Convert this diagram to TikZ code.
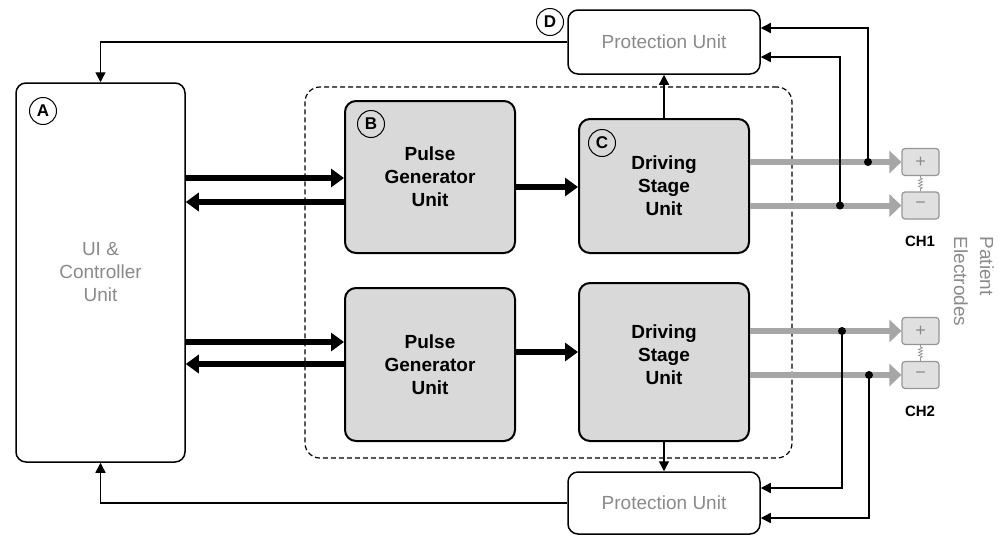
\documentclass[tikz,border=0pt]{standalone}
\usepackage{fontspec}
\setmainfont{Liberation Sans}
\usetikzlibrary{arrows.meta,decorations.pathmorphing}
\definecolor{txtgray}{RGB}{138,138,138}
\definecolor{boxgray}{RGB}{217,217,217}
\definecolor{wiregray}{RGB}{166,166,166}
\definecolor{elfill}{RGB}{224,224,224}
\definecolor{elborder}{RGB}{150,150,150}
\begin{document}
\begin{tikzpicture}[x=1pt,y=-1pt,
  unitbox/.style={draw, line width=2pt, fill=boxgray, rounded corners=11pt, inner sep=0pt, align=center, font=\fontsize{19}{23}\selectfont\bfseries},
  unittext/.style={align=center, inner sep=0pt, font=\fontsize{19}{23}\selectfont\bfseries},
  whitebox/.style={draw, line width=1.5pt, fill=white, rounded corners=10pt, inner sep=0pt, align=center, text=txtgray, font=\fontsize{19}{23}\selectfont},
  tag/.style={draw, circle, line width=1pt, minimum size=27pt, inner sep=0pt, font=\fontsize{17}{17}\selectfont\bfseries},
  wire/.style={line width=1.4pt, -{Triangle[length=10pt,width=10pt]}},
  fat/.style={line width=6pt, -{Triangle[length=13pt,width=18pt]}},
  grayarrow/.style={line width=6pt, draw=wiregray, -{Triangle[length=12pt,width=22pt]}},
  elbox/.style={draw=elborder, line width=1.2pt, fill=elfill, rounded corners=3pt, minimum width=37pt, minimum height=27pt, inner sep=0pt, text=txtgray, font=\fontsize{18}{18}\selectfont},
  dot/.style={circle, fill=black, minimum size=8pt, inner sep=0pt},
  chlabel/.style={font=\fontsize{15}{15}\selectfont\bfseries},
  resistor/.style={draw=elborder, line width=0.7pt, decorate, decoration={zigzag, segment length=3pt, amplitude=2pt, pre length=2pt, post length=2pt}},
]
\useasboundingbox (0,0) rectangle (998,536);

% group
\node[draw, dashed, line width=1.2pt, dash pattern=on 5pt off 3pt, rounded corners=15pt, minimum width=487pt, minimum height=371pt, inner sep=0pt] (grp) at (548.5,272.5) {};

% main boxes
\node[whitebox, minimum width=169pt, minimum height=379pt] (A) at (100.5,272.5) {UI \&\\Controller\\Unit};
\node[unitbox, minimum width=170pt, minimum height=152pt] (B1) at (430,177) {Pulse\\Generator\\Unit};
\node[unitbox, minimum width=170pt, minimum height=134pt] (C1) at (664,186) {Driving\\Stage\\Unit};
\node[unitbox, minimum width=170pt, minimum height=153pt] (B2) at (430,364.5) {Pulse\\Generator\\Unit};
\node[unitbox, minimum width=170pt, minimum height=158pt] (C2) at (664,362) {};
\node[unittext] (C2t) at (664,355) {Driving\\Stage\\Unit};
\node[whitebox, minimum width=192pt, minimum height=64pt] (P1) at (664,42) {Protection Unit};
\node[whitebox, minimum width=192pt, minimum height=62pt] (P2) at (664,503) {Protection Unit};

% tags
\node[tag] (tA) at (43,111) {A};
\node[tag] (tB) at (371,124) {B};
\node[tag] (tC) at (602,143) {C};
\node[tag] (tD) at (550,22) {D};

% electrodes
\node[elbox] (E1p) at (920.5,162) {+};
\node[elbox] (E1m) at (920.5,205.5) {\char"2212};
\node[elbox] (E2p) at (920.5,331) {+};
\node[elbox] (E2m) at (920.5,375) {\char"2212};
\draw[resistor] (E1p.south) -- (E1m.north);
\draw[resistor] (E2p.south) -- (E2m.north);
\node[chlabel] (ch1) at (920,241) {CH1};
\node[chlabel] (ch2) at (920,411) {CH2};
\node[rotate=-90, align=left, text=txtgray, font=\fontsize{19}{26}\selectfont, inner sep=0pt] (pe) at (974,281.5) {Patient\\Electrodes};

% thick black data arrows
\draw[fat] (A.east |- 0,178) -- (B1.west |- 0,178);
\draw[fat] (B1.west |- 0,202) -- (A.east |- 0,202);
\draw[fat] (A.east |- 0,342) -- (B2.west |- 0,342);
\draw[fat] (B2.west |- 0,364) -- (A.east |- 0,364);
\draw[fat] (B1.east |- 0,187) -- (C1.west |- 0,187);
\draw[fat] (B2.east |- 0,352) -- (C2.west |- 0,352);

% gray output wires
\draw[grayarrow] (C1.east |- E1p) -- (E1p.west);
\draw[grayarrow] (C1.east |- E1m) -- (E1m.west);
\draw[grayarrow] (C2.east |- E2p) -- (E2p.west);
\draw[grayarrow] (C2.east |- E2m) -- (E2m.west);

% sense dots
\node[dot] (d1) at (868,162) {};
\node[dot] (d2) at (840,205.5) {};
\node[dot] (d3) at (842,331) {};
\node[dot] (d4) at (869,375) {};

% protection feedback
\draw[wire] (d1.center) |- (P1.east |- 0,28);
\draw[wire] (d2.center) |- (P1.east |- 0,57);
\draw[wire] (d3.center) |- (P2.east |- 0,488);
\draw[wire] (d4.center) |- (P2.east |- 0,518);

% control connections
\draw[wire] (C1.north) -- (P1.south);
\draw[wire] (C2.south) -- (P2.north);
\draw[wire] (P1.west) -| (A.north);
\draw[wire] (P2.west) -| (A.south);
\end{tikzpicture}
\end{document}
